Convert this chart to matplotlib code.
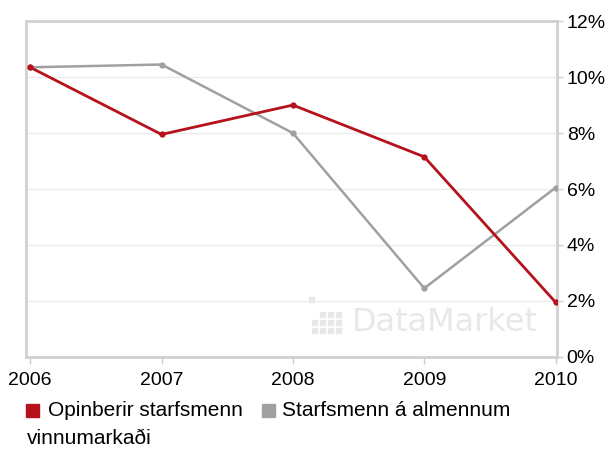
import matplotlib.pyplot as plt
from matplotlib.patches import Rectangle

plt.rcParams['font.family'] = ['Liberation Sans', 'DejaVu Sans']

years = [2006, 2007, 2008, 2009, 2010]
opinberir = [10.35, 7.95, 9.0, 7.15, 1.95]
almennum = [10.35, 10.45, 8.0, 2.45, 6.05]
y_ticks = [0, 2, 4, 6, 8, 10, 12]

red = '#b5121b'
gray = '#a0a0a0'

fig = plt.figure(figsize=(6.1, 4.5), dpi=100)
ax = fig.add_axes([0.043, 0.207, 0.870, 0.746])

# gridlines
for t in y_ticks:
    ax.axhline(t, color='#ebebeb', lw=1, zorder=0)

ax.plot(years, almennum, '-', color=gray, lw=1.8, marker='o', ms=3.5, zorder=3)
ax.plot(years, opinberir, '-', color=red, lw=2, marker='o', ms=3.5, zorder=4)

# watermark
ax.text(2009.16, 1.22, 'DataMarket', color='#e8e8e8', fontsize=23,
        family='DejaVu Sans', ha='center', va='center', zorder=1)
icon = [(311, 299), (322, 314), (330, 314), (338, 314),
        (314, 322), (322, 322), (330, 322), (338, 322),
        (314, 330), (322, 330), (330, 330), (338, 330)]
for px, py in icon:
    fig.patches.append(Rectangle(((px - 2.5) / 610, 1 - (py + 2.5) / 450), 5 / 610, 5 / 450,
                                 transform=fig.transFigure, color='#e8e8e8', zorder=1))

ax.set_xlim(2005.97, 2010.01)
ax.set_ylim(0, 12)
ax.set_xticks(years)
ax.set_xticklabels([str(y) for y in years])
ax.set_yticks(y_ticks)
ax.set_yticklabels([f'{t}%' for t in y_ticks])
ax.yaxis.tick_right()
ax.tick_params(axis='x', length=5, width=1, color='#cccccc', labelsize=14, pad=6)
ax.tick_params(axis='y', length=4, width=1, color='#cccccc', labelsize=14, pad=3)
for s in ax.spines.values():
    s.set_color('#d0d0d0')
    s.set_linewidth(2)

# legend below the plot
fig.patches.append(Rectangle((26 / 610, 1 - 417 / 450), 13 / 610, 13 / 450,
                             transform=fig.transFigure, color=red))
fig.text(48 / 610, 1 - 410 / 450, 'Opinberir starfsmenn', fontsize=15, va='center')
fig.patches.append(Rectangle((262 / 610, 1 - 417 / 450), 13 / 610, 13 / 450,
                             transform=fig.transFigure, color=gray))
fig.text(282 / 610, 1 - 410 / 450, 'Starfsmenn á almennum', fontsize=15, va='center')
fig.text(27 / 610, 1 - 438 / 450, 'vinnumarkaði', fontsize=15, va='center')

plt.savefig('out.png', dpi=100)
